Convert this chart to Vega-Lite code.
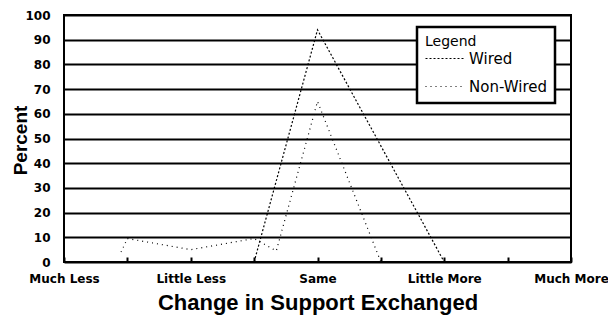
{
  "$schema": "https://vega.github.io/schema/vega-lite/v6.json",
  "autosize": "none",
  "width": 507,
  "height": 247,
  "padding": {"left": 64, "top": 15, "right": 37, "bottom": 56},
  "background": "white",
  "config": {
    "view": {"stroke": "black", "strokeWidth": 2},
    "font": "DejaVu Sans",
    "legend": {"strokeWidth": 2.5}
  },
  "data": {
    "values": [
      {"series": "Non-Wired", "x": 0.9, "pct": 4},
      {"series": "Non-Wired", "x": 1, "pct": 9.5},
      {"series": "Non-Wired", "x": 2, "pct": 5},
      {"series": "Non-Wired", "x": 3, "pct": 9.5},
      {"series": "Non-Wired", "x": 3.35, "pct": 4.5},
      {"series": "Non-Wired", "x": 4, "pct": 65},
      {"series": "Non-Wired", "x": 5, "pct": 0},
      {"series": "Wired", "x": 3, "pct": 0},
      {"series": "Wired", "x": 4, "pct": 94},
      {"series": "Wired", "x": 6, "pct": 0}
    ]
  },
  "mark": {"type": "line", "color": "black", "strokeWidth": 1.2},
  "encoding": {
    "x": {
      "field": "x",
      "type": "quantitative",
      "scale": {"domain": [0, 8], "nice": false, "zero": false},
      "axis": {
        "values": [0, 1, 2, 3, 4, 5, 6, 7, 8],
        "labelExpr": "datum.value == 0 ? 'Much Less' : datum.value == 2 ? 'Little Less' : datum.value == 4 ? 'Same' : datum.value == 6 ? 'Little More' : datum.value == 8 ? 'Much More' : ''",
        "grid": false,
        "domain": false,
        "tickColor": "black",
        "tickSize": -5,
        "tickWidth": 2,
        "labelPadding": 16,
        "labelFlush": false,
        "labelBound": false,
        "labelFont": "DejaVu Sans",
        "labelFontSize": 12,
        "labelFontWeight": "bold",
        "labelColor": "black",
        "labelOverlap": false,
        "title": "Change in Support Exchanged",
        "titleFont": "Liberation Sans",
        "titleFontSize": 22,
        "titleFontWeight": "bold",
        "titleColor": "black",
        "titlePadding": 8
      }
    },
    "y": {
      "field": "pct",
      "type": "quantitative",
      "scale": {"domain": [0, 100], "nice": false},
      "axis": {
        "values": [0, 10, 20, 30, 40, 50, 60, 70, 80, 90, 100],
        "grid": true,
        "gridColor": "black",
        "gridWidth": 2,
        "gridOpacity": 1,
        "ticks": false,
        "domain": false,
        "labelPadding": 14,
        "labelFont": "DejaVu Sans",
        "labelFontSize": 12,
        "labelFontWeight": "bold",
        "labelColor": "black",
        "title": "Percent",
        "titleFont": "Liberation Sans",
        "titleFontSize": 19,
        "titleFontWeight": "bold",
        "titleColor": "black",
        "titleX": -44,
        "titleY": 125,
        "titleAlign": "center",
        "titleBaseline": "middle",
        "titleAngle": -90
      }
    },
    "strokeDash": {
      "field": "series",
      "type": "nominal",
      "scale": {"domain": ["Wired", "Non-Wired"], "range": [[2, 2], [1, 4]]},
      "legend": {
        "orient": "none",
        "legendX": 353,
        "legendY": 12,
        "title": "Legend",
        "titleFont": "DejaVu Sans",
        "titleFontSize": 14,
        "titleFontWeight": "normal",
        "titleColor": "black",
        "titlePadding": -10,
        "labelFont": "DejaVu Sans",
        "labelFontSize": 15,
        "labelColor": "black",
        "labelOffset": 5,
        "symbolType": "stroke",
        "symbolSize": 1444,
        "symbolStrokeColor": "black",
        "symbolStrokeWidth": 1,
        "rowPadding": -20,
        "padding": 8,
        "strokeColor": "black",
        "fillColor": "white"
      }
    }
  }
}
